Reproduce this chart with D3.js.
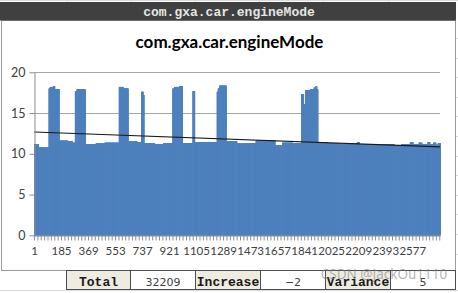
<!DOCTYPE html>
<html>
<head>
<meta charset="utf-8">
<script src="https://cdn.jsdelivr.net/npm/d3@7"></script>
<style>
body { margin: 0; background: #fff; }
svg { display: block; font-family: Lato, sans-serif; }
</style>
</head>
<body>
<div id="vis"></div>
<script>
const width = 458;
const height = 293;

// category count on the x axis
const N = 2765;
// run-length series: each value holds from its start category up to the next start
const segStarts = [1, 28, 60, 100, 108, 130, 140, 170, 230, 260, 279, 290, 348, 420, 480, 578, 605, 640, 700, 730, 742, 748, 820, 880,
  943, 955, 990, 1010, 1080, 1093, 1180, 1245, 1252, 1262, 1308, 1380, 1440, 1510, 1560, 1640, 1690, 1760, 1820, 1835, 1848, 1880,
  1905, 1915, 1925, 1932, 2000, 2085, 2150, 2200, 2215, 2300, 2380, 2450, 2500, 2560, 2580, 2620, 2640, 2680, 2695, 2720, 2735, 2750];
const segValues = [11.2, 10.8, 10.75, 18.0, 18.2, 18.3, 17.95, 11.6, 11.5, 11.35, 17.7, 17.9, 11.2, 11.25, 11.35, 18.2, 18.0, 11.55, 11.4, 17.6, 17.2, 11.3, 11.2, 11.3,
  18.0, 18.2, 18.3, 11.3, 17.7, 11.4, 11.45, 17.6, 18.0, 18.35, 11.55, 11.25, 11.3, 11.6, 11.65, 11.05, 11.35, 11.3, 17.3, 16.1, 17.8, 17.9,
  18.1, 18.25, 17.9, 11.4, 11.3, 11.15, 11.25, 11.45, 11.2, 11.1, 11.2, 11.05, 11.15, 11.4, 11.2, 11.35, 11.15, 11.4, 11.2, 11.35, 11.1, 11.3];
// linear trendline values at first and last category
const trendEnds = [12.67, 10.85];

const xLabels = [1, 185, 369, 553, 737, 921, 1105, 1289, 1473, 1657, 1841, 2025, 2209, 2393, 2577];
const tickEvery = 23;
const yTicks = [0, 5, 10, 15, 20];

const titleText = 'com.gxa.car.engineMode';
const tableHeads = ['Total', 'Increase', 'Variance'];
const tableValues = ['32209', '\u22122', '5'];

// expand segments into one value per category
const values = [];
segStarts.forEach((s, k) => {
  const end = k + 1 < segStarts.length ? segStarts[k + 1] : N + 1;
  for (let i = s; i < end; i++) values.push({cat: i, v: segValues[k]});
});

const svg = d3.select('#vis')
  .append('svg')
  .attr('width', width)
  .attr('height', height);

// spreadsheet grid behind the chart
const gridG = svg.append('g').attr('stroke', '#dadada').attr('stroke-width', 1);
[67, 131, 195, 259, 323, 388].forEach(cx => {
  gridG.append('line').attr('x1', cx + 0.5).attr('x2', cx + 0.5).attr('y1', 0).attr('y2', 2);
});
[0.5, 290.5].forEach(ry => {
  gridG.append('line').attr('x1', 0).attr('x2', width).attr('y1', ry).attr('y2', ry);
});
d3.range(38, 270, 19.6).forEach(ry => {
  gridG.append('line').attr('x1', 456).attr('x2', width).attr('y1', Math.round(ry) + 0.5).attr('y2', Math.round(ry) + 0.5);
});

// chart frame
svg.append('rect')
  .attr('x', 1.5).attr('y', 20.5)
  .attr('width', 454).attr('height', 250)
  .attr('fill', '#fff')
  .attr('stroke', '#9a9a9a');

// dark title bar
svg.append('rect')
  .attr('x', 0).attr('y', 2)
  .attr('width', 456).attr('height', 18.5)
  .attr('fill', '#404040');
svg.append('text')
  .attr('x', 229).attr('y', 15.5)
  .attr('text-anchor', 'middle')
  .style('font-family', '"Liberation Mono", monospace')
  .style('font-weight', 'bold')
  .style('font-size', '13px')
  .attr('fill', '#e6e6e6')
  .text(titleText);

// chart title
svg.append('text')
  .attr('x', 229.5).attr('y', 48)
  .attr('text-anchor', 'middle')
  .style('font-weight', 'bold')
  .style('font-size', '17px')
  .attr('fill', '#000')
  .text(titleText);

const x = d3.scaleBand()
  .domain(d3.range(1, N + 1))
  .range([34, 440]);

const y = d3.scaleLinear()
  .domain([0, 20])
  .range([235.3, 72.3]);

// horizontal gridlines
svg.append('g')
  .selectAll('line')
  .data(yTicks.filter(d => d > 0))
  .join('line')
  .attr('x1', 34).attr('x2', 440)
  .attr('y1', d => Math.round(y(d)) + 0.5)
  .attr('y2', d => Math.round(y(d)) + 0.5)
  .attr('stroke', '#a6a6a6');

// bars
svg.append('g')
  .selectAll('rect')
  .data(values)
  .join('rect')
  .attr('x', d => x(d.cat))
  .attr('width', 1)
  .attr('y', d => y(d.v))
  .attr('height', d => y(0) - y(d.v))
  .attr('fill', '#4f81bd');

// trendline
svg.append('line')
  .attr('x1', x(1)).attr('x2', x(N) + x.bandwidth())
  .attr('y1', y(trendEnds[0])).attr('y2', y(trendEnds[1]))
  .attr('stroke', '#1a1a1a')
  .attr('stroke-width', 1.1);

// y axis
const yAxis = svg.append('g')
  .attr('transform', 'translate(34.5,0)')
  .call(d3.axisLeft(y).tickValues(yTicks).tickSize(5).tickPadding(4).tickSizeOuter(0));
yAxis.select('.domain').attr('stroke', '#8c8c8c');
yAxis.selectAll('.tick line').attr('stroke', '#8c8c8c');
yAxis.selectAll('.tick text')
  .style('font-family', 'Lato, sans-serif')
  .style('font-size', '12.5px')
  .attr('fill', '#404040');

// x axis: tick marks
const tickCats = d3.range(1, N + 1, tickEvery);
const xTicks = svg.append('g')
  .attr('transform', `translate(0,${Math.round(y(0)) + 0.5})`)
  .call(d3.axisBottom(x).tickValues(tickCats).tickSize(5).tickFormat('').tickSizeOuter(0));
xTicks.select('.domain').attr('stroke', '#8c8c8c');
xTicks.selectAll('.tick line').attr('stroke', '#8c8c8c');

// x axis: labels
const xLab = svg.append('g')
  .attr('transform', `translate(0,${Math.round(y(0)) + 0.5})`)
  .call(d3.axisBottom(x).tickValues(xLabels).tickSize(0).tickPadding(11.5));
xLab.select('.domain').remove();
xLab.selectAll('.tick text')
  .style('font-family', 'Lato, sans-serif')
  .style('font-size', '11.5px')
  .attr('fill', '#404040');

// summary table row
const cellX = [66, 130, 195, 260, 325, 390, 455];
const tableG = svg.append('g');
tableHeads.forEach((h, k) => {
  const x0 = cellX[k * 2], x1 = cellX[k * 2 + 1], x2 = cellX[k * 2 + 2];
  tableG.append('rect')
    .attr('x', x0 + 0.5).attr('y', 270.5)
    .attr('width', x1 - x0).attr('height', 19)
    .attr('fill', '#eeece1').attr('stroke', '#4d4d4d');
  tableG.append('rect')
    .attr('x', x1 + 0.5).attr('y', 270.5)
    .attr('width', x2 - x1).attr('height', 19)
    .attr('fill', '#fff').attr('stroke', '#4d4d4d');
  tableG.append('text')
    .attr('x', (x0 + x1) / 2 + 0.5).attr('y', 285.5)
    .attr('text-anchor', 'middle')
    .style('font-family', '"Liberation Mono", monospace')
    .style('font-weight', 'bold')
    .style('font-size', '13px')
    .attr('fill', '#1a1a1a')
    .text(h);
  tableG.append('text')
    .attr('x', (x1 + x2) / 2 + 0.5).attr('y', 285.5)
    .attr('text-anchor', 'middle')
    .style('font-family', '"DejaVu Sans", sans-serif')
    .style('font-size', '11px')
    .attr('fill', '#404040')
    .text(tableValues[k]);
});

// watermark
svg.append('text')
  .attr('x', 384).attr('y', 279)
  .attr('text-anchor', 'middle')
  .style('font-family', '"Noto Sans", sans-serif')
  .style('font-size', '13.5px')
  .attr('fill', '#808080')
  .attr('fill-opacity', 0.6)
  .text('CSDN @JackOu1110');
</script>
</body>
</html>
